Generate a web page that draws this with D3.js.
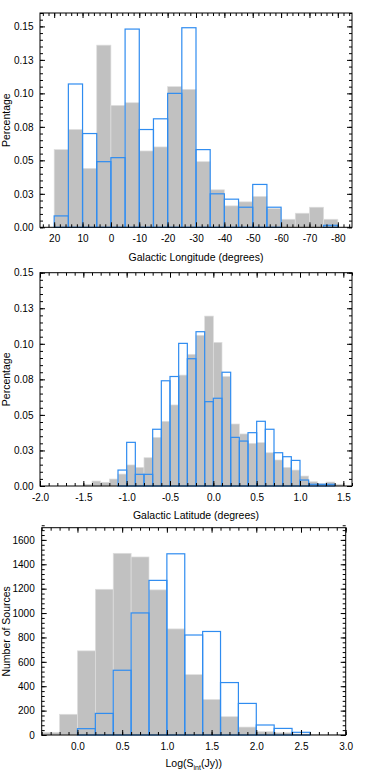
<!DOCTYPE html>
<html><head><meta charset="utf-8">
<script src="https://cdn.jsdelivr.net/npm/d3@7"></script>
<style>
body{margin:0;background:#fff}
svg{display:block}
text{font-family:"Liberation Sans",Arial,Helvetica,sans-serif;fill:#000}
</style>
</head><body><svg id="c" width="374" height="772"></svg>
<script>
// ---------- Panel 1 : Galactic longitude ----------
const lonEdges = [20,15,10,5,0,-5,-10,-15,-20,-25,-30,-35,-40,-45,-50,-55,-60,-65,-70,-75,-80];
const lonAll   = [0.058,0.073,0.044,0.136,0.091,0.093,0.057,0.060,0.105,0.103,0.049,0.028,0.016,0.019,0.023,0.014,0.006,0.0105,0.015,0.006];
const lonSel   = [0.0085,0.107,0.070,0.049,0.052,0.148,0.073,0.081,0.100,0.149,0.058,0.025,0.021,0.015,0.032,0.015,0,0,0,0.0015];
const lonTicks = [20,10,0,-10,-20,-30,-40,-50,-60,-70,-80];
const lonTickLabels = ["20","10","0","-10","-20","-30","-40","-50","-60","-70","-80"];
const pctTicks = [0,0.025,0.05,0.075,0.1,0.125,0.15];
const pctTickLabels = ["0.00","0.03","0.05","0.08","0.10","0.13","0.15"];

// ---------- Panel 2 : Galactic latitude ----------
const latEdges = [-1.5,-1.4,-1.3,-1.2,-1.1,-1.0,-0.9,-0.8,-0.7,-0.6,-0.5,-0.4,-0.3,-0.2,-0.1,0.0,0.1,0.2,0.3,0.4,0.5,0.6,0.7,0.8,0.9,1.0,1.1,1.2,1.3,1.4,1.5];
const latAll   = [0.0012,0.0035,0.0026,0.0049,0.0084,0.0148,0.0131,0.0199,0.0342,0.0455,0.057,0.078,0.0926,0.106,0.1195,0.101,0.077,0.0436,0.0366,0.030,0.0305,0.0234,0.0183,0.0131,0.0112,0.007,0.003,0.0016,0.0028,0.0012];
const latSel   = [0,0,0,0,0.0112,0.0307,0.0082,0.0082,0.0399,0.074,0.077,0.1003,0.0895,0.1085,0.0593,0.0617,0.080,0.0342,0.0316,0.0375,0.0455,0.0399,0.0234,0.0206,0.018,0.0042,0.0012,0.0012,0.0012,0];
const latTicks = [-2.0,-1.5,-1.0,-0.5,0.0,0.5,1.0,1.5];
const latTickLabels = ["-2.0","-1.5","-1.0","-0.5","0.0","0.5","1.0","1.5"];

// ---------- Panel 3 : Log flux ----------
const fluxEdges = [-0.4,-0.2,0.0,0.2,0.4,0.6,0.8,1.0,1.2,1.4,1.6,1.8,2.0,2.2,2.4,2.6,2.8,3.0];
const fluxAll   = [22,170,690,1195,1490,1460,1190,870,495,291,150,65,27,19,8,4,3];
const fluxSel   = [0,0,52,177,531,1001,1268,1486,820,849,430,259,82,54,22,0,0];
const fluxTicks = [0.0,0.5,1.0,1.5,2.0,2.5,3.0];
const fluxTickLabels = ["0.0","0.5","1.0","1.5","2.0","2.5","3.0"];
const cntTicks = [0,200,400,600,800,1000,1200,1400,1600];
const cntTickLabels = ["0","200","400","600","800","1000","1200","1400","1600"];

const svg = d3.select("#c");
const GRAY = "#c1c1c1", GRAY_EDGE = "#dedede", BLUE = "#2f8cf0";

function panel(cfg){
  const x = d3.scaleLinear().domain(cfg.xDomain).range([cfg.left, cfg.right]);
  const y = d3.scaleLinear().domain(cfg.yDomain).range([cfg.bottom, cfg.top]);
  const g = svg.append("g");
  const bins = (vals) => vals.map((v,i)=>({x0:cfg.edges[i], x1:cfg.edges[i+1], v}));

  g.append("g").selectAll("rect").data(bins(cfg.all).filter(d=>d.v>0)).join("rect")
    .attr("x", d=>Math.min(x(d.x0),x(d.x1)))
    .attr("width", d=>Math.abs(x(d.x1)-x(d.x0)))
    .attr("y", d=>y(d.v))
    .attr("height", d=>y(0)-y(d.v))
    .attr("fill", GRAY).attr("stroke", GRAY_EDGE).attr("stroke-width", 0.7);

  g.append("g").selectAll("rect").data(bins(cfg.sel).filter(d=>d.v>0)).join("rect")
    .attr("x", d=>Math.min(x(d.x0),x(d.x1)))
    .attr("width", d=>Math.abs(x(d.x1)-x(d.x0)))
    .attr("y", d=>y(d.v))
    .attr("height", d=>y(0)-y(d.v))
    .attr("fill", "none").attr("stroke", BLUE).attr("stroke-width", 1.2);

  const style = (sel)=>{ sel.select(".domain").remove();
    sel.selectAll("line").attr("stroke","#000").attr("stroke-width",1);
    sel.selectAll("text").attr("font-family",'"Liberation Sans",Arial,sans-serif').attr("font-size",10).attr("fill","#000");
    sel.attr("font-family",null).attr("font-size",null); };

  // bottom (labelled)
  const labB = d3.scaleOrdinal().domain(cfg.xTicks).range(cfg.xLabels);
  g.append("g").attr("transform",`translate(0,${cfg.bottom})`)
    .call(d3.axisBottom(x).tickValues(cfg.xMinor).tickSize(-3).tickFormat("")).call(style);
  g.append("g").attr("transform",`translate(0,${cfg.bottom})`)
    .call(d3.axisBottom(x).tickValues(cfg.xTicks).tickSize(-5).tickPadding(8).tickFormat(d=>labB(d))).call(style);
  // top
  g.append("g").attr("transform",`translate(0,${cfg.top})`)
    .call(d3.axisTop(x).tickValues(cfg.xMinor).tickSize(-3).tickFormat("")).call(style);
  g.append("g").attr("transform",`translate(0,${cfg.top})`)
    .call(d3.axisTop(x).tickValues(cfg.xTicks).tickSize(-5).tickFormat("")).call(style);
  // left (labelled)
  const labL = d3.scaleOrdinal().domain(cfg.yTicks).range(cfg.yLabels);
  g.append("g").attr("transform",`translate(${cfg.left},0)`)
    .call(d3.axisLeft(y).tickValues(cfg.yMinor).tickSize(-3).tickFormat("")).call(style);
  g.append("g").attr("transform",`translate(${cfg.left},0)`)
    .call(d3.axisLeft(y).tickValues(cfg.yTicks).tickSize(-5).tickPadding(cfg.yPad).tickFormat(d=>labL(d))).call(style);
  // right
  g.append("g").attr("transform",`translate(${cfg.right},0)`)
    .call(d3.axisRight(y).tickValues(cfg.yMinor).tickSize(-3).tickFormat("")).call(style);
  g.append("g").attr("transform",`translate(${cfg.right},0)`)
    .call(d3.axisRight(y).tickValues(cfg.yTicks).tickSize(-5).tickFormat("")).call(style);

  g.append("rect").attr("x",cfg.left).attr("y",cfg.top)
    .attr("width",cfg.right-cfg.left).attr("height",cfg.bottom-cfg.top)
    .attr("fill","none").attr("stroke","#000").attr("stroke-width",1);

  // titles
  const xt = g.append("text").attr("x",(cfg.left+cfg.right)/2).attr("y",cfg.xTitleY)
    .attr("text-anchor","middle").attr("font-size",10.5);
  if (cfg.xTitleParts){
    cfg.xTitleParts.forEach(p=>{
      const ts = xt.append("tspan").text(p.t);
      if(p.sub){ ts.attr("font-size",7).attr("dy",2.5); }
      else if(p.after){ ts.attr("dy",-2.5); }
    });
  } else xt.text(cfg.xTitle);
  g.append("text").attr("transform",`translate(${cfg.yTitleX},${(cfg.top+cfg.bottom)/2}) rotate(-90)`)
    .attr("text-anchor","middle").attr("font-size",10.5).text(cfg.yTitle);
}

function range(a,b,s){ const out=[]; const n=Math.round((b-a)/s); for(let i=0;i<=n;i++) out.push(+(a+i*s).toFixed(6)); return out; }

panel({
  left:40, right:352, top:13, bottom:227.3,
  xDomain:[25,-85], yDomain:[0,0.16],
  edges:lonEdges, all:lonAll, sel:lonSel,
  xTicks:lonTicks, xLabels:lonTickLabels, xMinor:range(-84,24,2),
  yTicks:pctTicks, yLabels:pctTickLabels, yMinor:range(0,0.16,0.005), yPad:6.5,
  xTitle:"Galactic Longitude (degrees)", xTitleY:261,
  yTitle:"Percentage", yTitleX:9.5
});
panel({
  left:40, right:352, top:272.7, bottom:486,
  xDomain:[-2.0,1.6], yDomain:[0,0.15],
  edges:latEdges, all:latAll, sel:latSel,
  xTicks:latTicks, xLabels:latTickLabels, xMinor:range(-2.0,1.6,0.1),
  yTicks:pctTicks, yLabels:pctTickLabels, yMinor:range(0,0.15,0.005), yPad:6.5,
  xTitle:"Galactic Latitude (degrees)", xTitleY:519,
  yTitle:"Percentage", yTitleX:9.5
});
panel({
  left:41.7, right:345.7, top:527.7, bottom:735,
  xDomain:[-0.4,3.0], yDomain:[0,1700],
  edges:fluxEdges, all:fluxAll, sel:fluxSel,
  xTicks:fluxTicks, xLabels:fluxTickLabels, xMinor:range(-0.4,3.0,0.1),
  yTicks:cntTicks, yLabels:cntTickLabels, yMinor:range(0,1700,40), yPad:7,
  xTitleParts:[{t:"Log(S"},{t:"int",sub:true},{t:"(Jy))",after:true}], xTitleY:767,
  yTitle:"Number of Sources", yTitleX:9.5
});
</script>
</body></html>
